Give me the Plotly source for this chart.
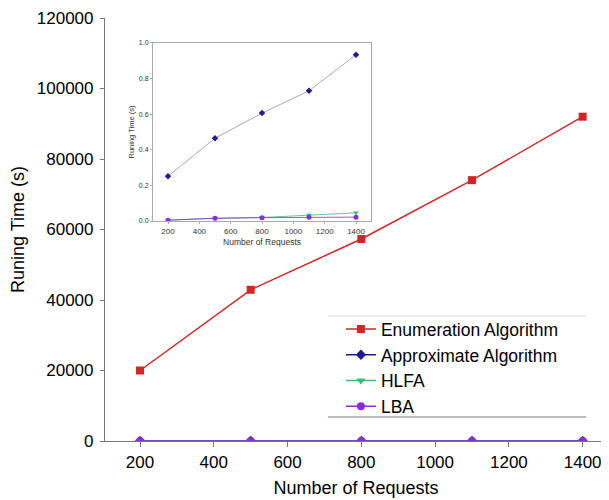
import plotly.graph_objects as go

requests = [200, 500, 800, 1100, 1400]
enumeration = [20000, 42900, 57300, 74000, 92000]
approximate = [0.252, 0.465, 0.606, 0.731, 0.934]
hlfa = [0.005, 0.015, 0.020, 0.034, 0.046]
lba = [0.005, 0.016, 0.019, 0.022, 0.022]

series = [
    ("Enumeration Algorithm", enumeration, "#d42424", "square", 8),
    ("Approximate Algorithm", approximate, "#1c1c8c", "diamond", 8),
    ("HLFA", hlfa, "#3cb878", "triangle-down", 8),
    ("LBA", lba, "#8a2be2", "circle", 8),
]

fig = go.Figure()
for name, vals, color, sym, size in series:
    fig.add_trace(go.Scatter(
        x=requests, y=vals, name=name, mode="lines+markers",
        line=dict(color=color, width=1.5),
        marker=dict(symbol=sym, size=size, color=color),
        xaxis="x", yaxis="y", cliponaxis=True,
    ))

inset_colors = {"Approximate Algorithm": "#8a8ac8", "HLFA": "#3cb878", "LBA": "#8a2be2"}
for name, vals, color, sym, size in series[1:]:
    fig.add_trace(go.Scatter(
        x=requests, y=vals, name=name, mode="lines+markers", showlegend=False,
        line=dict(color=inset_colors[name], width=0.8),
        marker=dict(symbol=sym, size=5, color=color),
        xaxis="x2", yaxis="y2",
    ))

axis_font = dict(family="Liberation Sans, Arial, sans-serif", color="black")

fig.update_layout(
    width=601, height=492,
    margin=dict(l=97, r=2, t=10, b=59),
    paper_bgcolor="white", plot_bgcolor="white",
    font=dict(family="Liberation Sans, Arial, sans-serif", color="black"),
    xaxis=dict(
        range=[105, 1466], tickvals=[200, 400, 600, 800, 1000, 1200, 1400],
        showgrid=False, zeroline=False, showline=True, linecolor="#777777", linewidth=1.2,
        ticks="outside", ticklen=5, tickcolor="#777777",
        tickfont=dict(size=17, **axis_font),
        title=dict(text="Number of Requests", font=dict(size=18, **axis_font), standoff=10),
    ),
    yaxis=dict(
        range=[0, 120000], tickvals=[0, 20000, 40000, 60000, 80000, 100000, 120000],
        tickformat="d",
        showgrid=False, zeroline=False, showline=True, linecolor="#777777", linewidth=1.2,
        ticks="outside", ticklen=4, tickcolor="#777777", ticklabelstandoff=3,
        tickfont=dict(size=17, **axis_font),
        title=dict(text="Runing Time (s)", font=dict(size=18, **axis_font), standoff=10),
    ),
    xaxis2=dict(
        domain=[0.0956, 0.530], anchor="y2", range=[104, 1496],
        tickvals=[200, 400, 600, 800, 1000, 1200, 1400],
        showgrid=False, zeroline=False, showline=True, mirror=True,
        linecolor="#aaaaaa", linewidth=1,
        ticks="outside", ticklen=2, tickcolor="#aaaaaa",
        tickfont=dict(size=8, color="#333333"),
        title=dict(text="Number of Requests", font=dict(size=8.5, color="#333333"), standoff=4),
    ),
    yaxis2=dict(
        domain=[0.520, 0.941], anchor="x2", range=[0, 1.0],
        tickvals=[0, 0.2, 0.4, 0.6, 0.8, 1.0], tickformat=".1f",
        showgrid=False, zeroline=False, showline=True, mirror=True,
        linecolor="#aaaaaa", linewidth=1,
        ticks="outside", ticklen=2, tickcolor="#aaaaaa",
        tickfont=dict(size=7, color="#333333"),
        title=dict(text="Runing Time (s)", font=dict(size=7.5, color="#333333"), standoff=3),
    ),
    legend=dict(
        x=0.47, y=0.307, xanchor="left", yanchor="top",
        bgcolor="rgba(255,255,255,0)", borderwidth=0,
        font=dict(size=17.5, family="Liberation Sans, Arial, sans-serif", color="black"),
        tracegroupgap=0, itemwidth=30,
    ),
    showlegend=True,
    shapes=[
        dict(type="line", xref="paper", yref="paper", x0=0.444, x1=0.958, y0=0.2955, y1=0.2955,
             line=dict(color="#dddddd", width=1)),
        dict(type="line", xref="paper", yref="paper", x0=0.444, x1=0.958, y0=0.0567, y1=0.0567,
             line=dict(color="#777777", width=1)),
    ],
)

fig.write_html("out.html")
